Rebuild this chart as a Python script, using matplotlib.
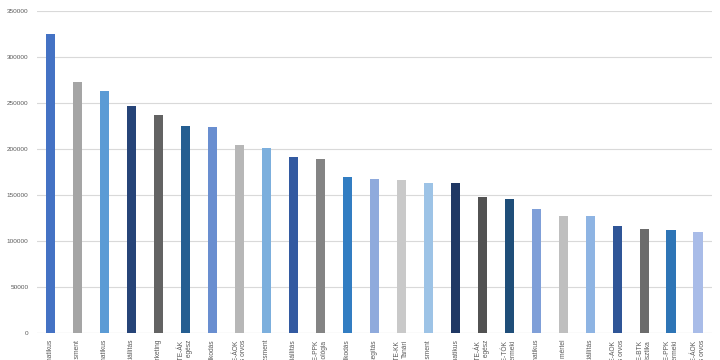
import matplotlib
matplotlib.use("Agg")
import matplotlib.pyplot as plt

plt.rcParams['font.family'] = ['Liberation Sans', 'DejaVu Sans']

# szakok (a hosszú feliratok alja az ábrán kívülre esik)
labels = [
    "BME-VIK Mérnökinformatikus",
    "BCE-GTK Gazdálkodási és menedzsment",
    "ELTE-IK Programtervező informatikus",
    "BGE-KVIK Turizmus-vendégkiállítás",
    "BGE-KVIK Kereskedelem és marketing",
    "SOTE-ÁK\nGyógyszerész egész",
    "BCE-GTK Nemzetközi gazdálkodás",
    "DE-ÁOK\nÁltalános orvos",
    "BGE-PSZK Emberi erőforrás menedzsment",
    "BGE-KVIK Rendezvényszervezés kiállítás",
    "ELTE-PPK\nPszichológia",
    "BGE-PSZK Pénzügy és gazdálkodás",
    "ELTE-TáTK Szociális segítás",
    "PTE-KK\nTanári",
    "ME-GTK Turizmus menedzsment",
    "ÓE-NIK Gazdaságinformatikus",
    "PTE-ÁK\nGyógyszerész egész",
    "ELTE-TÓK\nKisgyermeki",
    "DE-IK Programtervező informatikus",
    "BME-VBK Vegyészmérnöki mértel",
    "SZTE-GTK Üzleti kiállítás",
    "SE-AOK\nÁltalános orvos",
    "ELTE-BTK\nAnglisztika",
    "ELTE-PPK\nKisgyermeki",
    "PTE-ÁOK\nÁltalános orvos",
]
values = [325000, 273000, 263000, 247000, 237000, 225000, 224000, 204000,
          201000, 191000, 189000, 170000, 168000, 166000, 163000, 163000,
          148000, 146000, 135000, 127000, 127000, 116000, 113000, 112000,
          110000]
colors = ["#4472C4", "#A5A5A5", "#5B9BD5", "#264478", "#636363", "#255E91",
          "#698ED0", "#B7B7B7", "#7CAFDD", "#335AA1", "#848484", "#327DC2",
          "#8FAADC", "#C9C9C9", "#9DC3E6", "#203864", "#525252", "#1F4E79",
          "#7F9FD8", "#BFBFBF", "#8EB4E3", "#2F5597", "#6C6C6C", "#2E75B6",
          "#A9BCE8"]

fig = plt.figure(figsize=(7.2, 3.6), dpi=100)
ax = fig.add_axes([0.051, 0.075, 0.938, 0.894])

x = range(len(values))
ax.bar(x, values, width=0.34, color=colors, zorder=3)

ax.set_ylim(0, 350000)
ax.set_xlim(-0.52, len(values) - 0.48)
ax.set_yticks(range(0, 350001, 50000))
ax.yaxis.grid(True, color="#D9D9D9", linewidth=0.8, zorder=0)
for s in ax.spines.values():
    s.set_visible(False)
ax.axhline(0, color="#D9D9D9", linewidth=0.8, zorder=1)

ax.set_xticks(list(x))
ax.set_xticklabels(labels, rotation=90, fontsize=4.8, color="#595959",
                   va="top", ha="center", multialignment="right")
ax.tick_params(axis="both", length=0)
ax.tick_params(axis="x", pad=5)
ax.tick_params(axis="y", labelsize=4.6, labelcolor="#595959", pad=6)

fig.savefig("out.png", dpi=100)
